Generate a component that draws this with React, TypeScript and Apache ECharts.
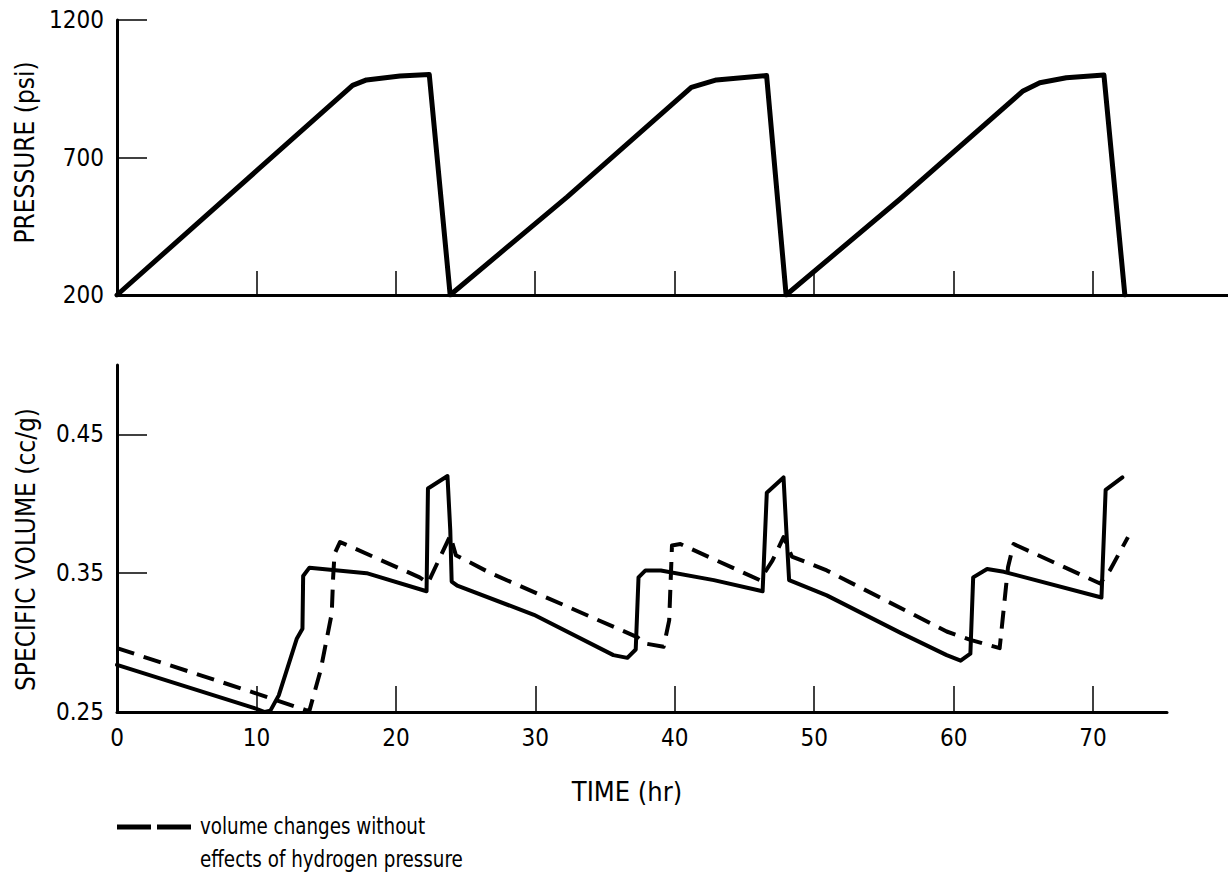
import React, { useEffect, useRef } from "react";
import * as echarts from "echarts";

// Pressure (psi) vs time (hr)
const pressureTime = [0, 10, 16.9, 17.9, 20.3, 22.4, 23.9, 32.3, 41.2, 43.0, 46.6, 48.0, 56.2, 65.0, 66.2, 68.1, 70.8, 72.3];
const pressureValues = [200, 651, 962, 982, 996, 1002, 200, 557, 955, 982, 998, 200, 550, 942, 972, 990, 1000, 200];

// Specific volume (cc/g) with hydrogen pressure effects (solid)
const solidTime = [0, 9.8, 10.6, 11.0, 11.6, 12.9, 13.3, 13.35, 13.8, 17.9, 22.2, 22.3, 23.7, 23.9, 24.0, 24.4, 29.9, 35.6, 36.6, 37.2, 37.4, 37.9, 39.0, 42.8, 46.3, 46.6, 47.8, 48.0, 48.2, 50.9, 56.2, 59.5, 60.5, 61.2, 61.4, 62.4, 63.6, 70.6, 70.9, 72.1];
const solidValues = [0.284, 0.253, 0.25, 0.251, 0.262, 0.303, 0.31, 0.348, 0.354, 0.35, 0.337, 0.411, 0.42, 0.381, 0.344, 0.341, 0.32, 0.291, 0.289, 0.295, 0.347, 0.352, 0.352, 0.345, 0.337, 0.408, 0.419, 0.381, 0.345, 0.334, 0.307, 0.291, 0.287, 0.292, 0.347, 0.353, 0.351, 0.3325, 0.41, 0.419];

// Volume changes without effects of hydrogen pressure (dashed)
const dashedTime = [0, 9.8, 13.5, 13.8, 14.6, 15.4, 15.5, 15.6, 16.0, 21.7, 22.3, 23.9, 24.3, 26.8, 37.3, 37.8, 39.2, 39.6, 39.8, 40.4, 46.1, 47.0, 47.8, 48.4, 50.9, 59.5, 61.2, 63.3, 63.9, 64.3, 70.5, 71.2, 72.5];
const dashedValues = [0.296, 0.264, 0.2515, 0.251, 0.28, 0.321, 0.347, 0.364, 0.3725, 0.347, 0.343, 0.377, 0.363, 0.35, 0.304, 0.2995, 0.297, 0.316, 0.37, 0.371, 0.345, 0.359, 0.376, 0.362, 0.352, 0.308, 0.302, 0.296, 0.3545, 0.371, 0.3426, 0.352, 0.376];

const timeLabels = [0, 10, 20, 30, 40, 50, 60, 70];
const timeTicks = [10, 20, 30, 40, 50, 60, 70];
const pressureLabels = [200, 700, 1200];
const pressureTicks = [700, 1200];
const volumeLabels = [0.25, 0.35, 0.45];
const volumeTicks = [0.35, 0.45];

const legendLine1 = "volume changes without";
const legendLine2 = "effects of hydrogen pressure";

const FONT = "'DejaVu Sans Condensed', 'Liberation Sans Narrow', 'Roboto', sans-serif";

const zip = (xs: number[], ys: number[]) => xs.map((x, i) => [x, ys[i]]);

export default function App() {
  const ref = useRef<HTMLDivElement>(null);

  useEffect(() => {
    if (!ref.current) return;
    const chart = echarts.init(ref.current, null, { renderer: "svg" });
    const axisLine = { show: true, onZero: false, lineStyle: { color: "#000", width: 3 } };
    const labelStyle = { color: "#000", fontSize: 24, fontFamily: FONT };
    const nameStyle = { color: "#000", fontSize: 26, fontFamily: FONT };

    chart.setOption({
      animation: false,
      backgroundColor: "#fff",
      grid: [
        { left: 117, right: 0, top: 20, height: 275 },
        { left: 117, right: 61, top: 365, height: 347 },
      ],
      xAxis: [
        {
          type: "value",
          gridIndex: 0,
          min: 0,
          max: 79.7,
          axisLine,
          axisTick: { show: true, inside: true, length: 24, customValues: timeTicks, lineStyle: { color: "#000", width: 1.5 } },
          axisLabel: { show: false },
          splitLine: { show: false },
        },
        {
          type: "value",
          gridIndex: 1,
          min: 0,
          max: 75.3,
          name: "TIME (hr)",
          nameLocation: "middle",
          nameGap: 66,
          nameTextStyle: { ...nameStyle, fontSize: 27, padding: [0, 30, 0, 0] },
          axisLine,
          axisTick: { show: true, inside: true, length: 26, customValues: timeTicks, lineStyle: { color: "#000", width: 1.5 } },
          axisLabel: { ...labelStyle, margin: 14, customValues: timeLabels, formatter: (v: number) => String(v) },
          splitLine: { show: false },
        },
      ],
      yAxis: [
        {
          type: "value",
          gridIndex: 0,
          min: 200,
          max: 1200,
          name: "PRESSURE (psi)",
          nameLocation: "middle",
          nameGap: 78,
          nameTextStyle: { ...nameStyle, padding: [0, 0, 0, 10] },
          axisLine,
          axisTick: { show: true, inside: true, length: 30, customValues: pressureTicks, lineStyle: { color: "#000", width: 1.5 } },
          axisLabel: { ...labelStyle, margin: 13, customValues: pressureLabels, formatter: (v: number) => String(v) },
          splitLine: { show: false },
        },
        {
          type: "value",
          gridIndex: 1,
          min: 0.25,
          max: 0.5,
          name: "SPECIFIC VOLUME (cc/g)",
          nameLocation: "middle",
          nameGap: 78,
          nameTextStyle: { ...nameStyle, padding: [0, 22, 0, 0] },
          axisLine,
          axisTick: { show: true, inside: true, length: 30, customValues: volumeTicks, lineStyle: { color: "#000", width: 1.5 } },
          axisLabel: { ...labelStyle, margin: 13, customValues: volumeLabels, formatter: (v: number) => v.toFixed(2) },
          splitLine: { show: false },
        },
      ],
      series: [
        {
          name: "Pressure",
          type: "line",
          xAxisIndex: 0,
          yAxisIndex: 0,
          data: zip(pressureTime, pressureValues),
          showSymbol: false,
          lineStyle: { color: "#000", width: 5, join: "round", cap: "round" },
        },
        {
          name: "Specific volume",
          type: "line",
          xAxisIndex: 1,
          yAxisIndex: 1,
          data: zip(solidTime, solidValues),
          showSymbol: false,
          lineStyle: { color: "#000", width: 4, join: "round", cap: "round" },
        },
        {
          name: "volume changes without effects of hydrogen pressure",
          type: "line",
          xAxisIndex: 1,
          yAxisIndex: 1,
          data: zip(dashedTime, dashedValues),
          showSymbol: false,
          lineStyle: { color: "#000", width: 4, type: [18, 10], join: "round" },
        },
      ],
      graphic: [
        {
          type: "line",
          shape: { x1: 117, y1: 827, x2: 192, y2: 827 },
          style: { stroke: "#000", lineWidth: 5, lineDash: [34, 6] },
        },
        {
          type: "text",
          x: 200,
          y: 826,
          scaleX: 0.885,
          style: { text: legendLine1, fill: "#000", fontSize: 23, fontFamily: FONT, verticalAlign: "middle" },
        },
        {
          type: "text",
          x: 200,
          y: 859,
          scaleX: 0.885,
          style: { text: legendLine2, fill: "#000", fontSize: 23, fontFamily: FONT, verticalAlign: "middle" },
        },
      ],
    });
    return () => chart.dispose();
  }, []);

  return (
    <div
      ref={ref}
      style={{ position: "fixed", left: 0, top: 0, width: 1228, height: 877, background: "#fff" }}
    />
  );
}
